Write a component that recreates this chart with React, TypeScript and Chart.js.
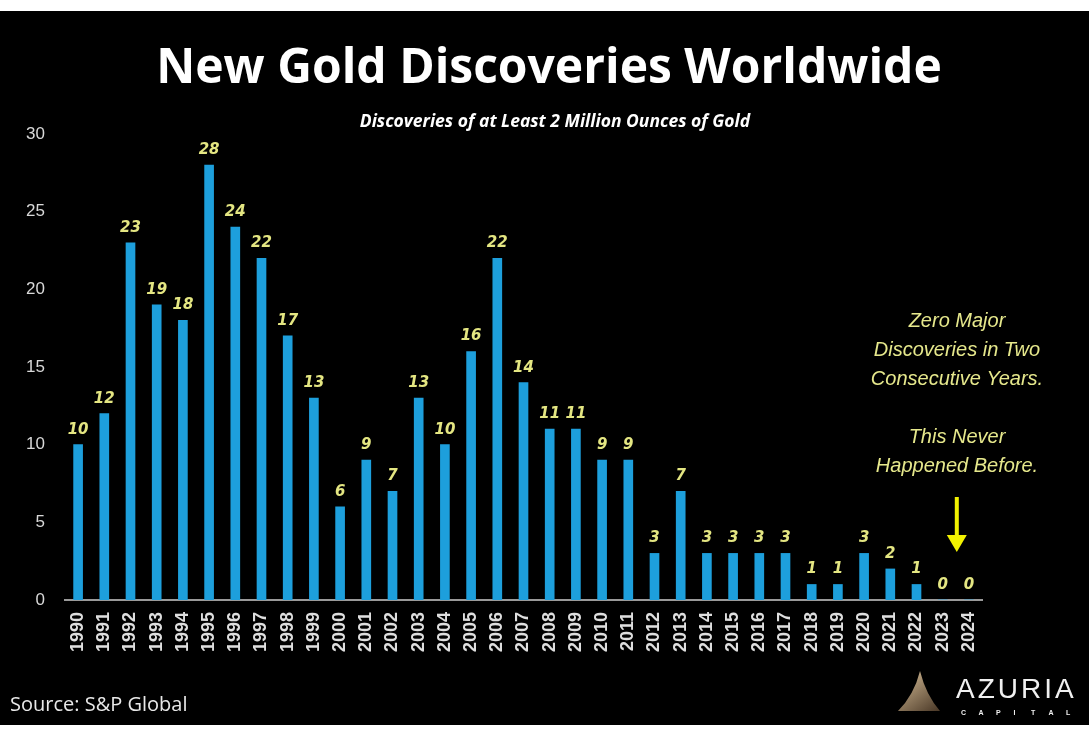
import React, { useEffect, useRef } from "react";
import { Chart, registerables } from "chart.js";

Chart.register(...registerables);

const years = [
  "1990","1991","1992","1993","1994","1995","1996","1997","1998","1999",
  "2000","2001","2002","2003","2004","2005","2006","2007","2008","2009",
  "2010","2011","2012","2013","2014","2015","2016","2017","2018","2019",
  "2020","2021","2022","2023","2024",
];
const discoveries = [
  10, 12, 23, 19, 18, 28, 24, 22, 17, 13,
  6, 9, 7, 13, 10, 16, 22, 14, 11, 11,
  9, 9, 3, 7, 3, 3, 3, 3, 1, 1,
  3, 2, 1, 0, 0,
];
const yTicks = [0, 5, 10, 15, 20, 25, 30];
const titleText = "New Gold Discoveries Worldwide";
const subtitleText = "Discoveries of at Least 2 Million Ounces of Gold";
const noteLines = ["Zero Major", "Discoveries in Two", "Consecutive Years.", "", "This Never", "Happened Before."];
const sourceText = "Source: S&P Global";

const W = 1089;
const H = 730;

const decorPlugin = {
  id: "decor",
  beforeDraw(chart: any) {
    const ctx = chart.ctx;
    ctx.save();
    ctx.fillStyle = "#ffffff";
    ctx.fillRect(0, 0, W, H);
    ctx.fillStyle = "#000000";
    ctx.fillRect(0, 11, W, 714);
    ctx.restore();
  },
  afterDraw(chart: any) {
    const ctx = chart.ctx;
    const xs = chart.scales.x;
    ctx.save();
    // title
    ctx.fillStyle = "#ffffff";
    ctx.textAlign = "center";
    ctx.textBaseline = "alphabetic";
    ctx.font = "bold 48px 'Open Sans'";
    ctx.fillText(titleText, 549, 83);
    ctx.font = "italic bold 17.5px 'Open Sans'";
    ctx.fillText(subtitleText, 555, 127);

    // data labels
    const meta = chart.getDatasetMeta(0);
    ctx.fillStyle = "#e4e682";
    ctx.font = "italic bold 15px 'DejaVu Sans'";
    meta.data.forEach((bar: any, i: number) => {
      ctx.fillText(String(discoveries[i]), bar.x, bar.y - 11);
    });

    // annotation
    ctx.fillStyle = "#e6e88c";
    ctx.font = "italic 20px 'Liberation Sans'";
    ctx.textBaseline = "middle";
    const nx = 957;
    let ny = 321;
    noteLines.forEach((l) => {
      if (l) ctx.fillText(l, nx, ny);
      ny += 29;
    });

    // arrow between 2023 and 2024
    const ax = (xs.getPixelForValue(33) + xs.getPixelForValue(34)) / 2 + 1;
    ctx.fillStyle = "#f2f200";
    ctx.fillRect(ax - 2, 497, 4, 40);
    ctx.beginPath();
    ctx.moveTo(ax - 10, 535);
    ctx.lineTo(ax + 10, 535);
    ctx.lineTo(ax, 552);
    ctx.closePath();
    ctx.fill();

    // source
    ctx.fillStyle = "#e8e8e8";
    ctx.textAlign = "left";
    ctx.textBaseline = "middle";
    ctx.font = "20px 'Open Sans'";
    ctx.fillText(sourceText, 10, 705);

    // logo
    const g = ctx.createLinearGradient(905, 672, 935, 712);
    g.addColorStop(0, "#cdb590");
    g.addColorStop(1, "#4e3c2a");
    ctx.fillStyle = g;
    ctx.beginPath();
    ctx.moveTo(920, 671);
    ctx.quadraticCurveTo(926, 695, 940, 711);
    ctx.lineTo(898, 711);
    ctx.quadraticCurveTo(914, 695, 920, 671);
    ctx.closePath();
    ctx.fill();
    ctx.fillStyle = "#f0f0f0";
    ctx.font = "28px 'Liberation Sans'";
    ctx.textAlign = "left";
    ctx.textBaseline = "alphabetic";
    (ctx as any).letterSpacing = "3px";
    ctx.fillText("AZURIA", 956, 698);
    (ctx as any).letterSpacing = "0px";
    ctx.font = "bold 7px 'Liberation Sans'";
    const cap = "CAPITAL";
    for (let i = 0; i < cap.length; i++) {
      ctx.fillText(cap[i], 961 + i * 17.5, 715);
    }
    ctx.restore();
  },
};

export default function App() {
  const ref = useRef<HTMLCanvasElement | null>(null);
  useEffect(() => {
    document.body.style.margin = "0";
    document.body.style.background = "#ffffff";
    if (!ref.current) return;
    const chart = new Chart(ref.current, {
      type: "bar",
      data: {
        labels: years,
        datasets: [
          {
            data: discoveries,
            backgroundColor: "#1d9fdc",
            borderWidth: 0,
            barThickness: 9,
          },
        ],
      },
      options: {
        animation: false,
        responsive: false,
        devicePixelRatio: 1,
        layout: { padding: { top: 134, left: 0, right: W - 982, bottom: 0 } },
        plugins: {
          legend: { display: false },
          tooltip: { enabled: false },
          title: { display: false },
        },
        scales: {
          x: {
            offset: true,
            grid: { display: false, drawTicks: false },
            border: { display: true, color: "#9a9a9a", width: 2 },
            ticks: {
              color: "#dedede",
              font: { size: 18, weight: "bold", family: "'Liberation Sans'" },
              minRotation: 90,
              maxRotation: 90,
              autoSkip: false,
              padding: 12,
            },
            afterFit: (s: any) => {
              s.height = H - 600;
            },
          },
          y: {
            min: 0,
            max: 30,
            afterBuildTicks: (s: any) => {
              s.ticks = yTicks.map((v) => ({ value: v }));
            },
            grid: { display: false, drawTicks: false },
            border: { display: false },
            ticks: {
              color: "#d8d8d8",
              font: { size: 17, family: "'Liberation Sans'" },
              padding: 20,
            },
            afterFit: (s: any) => {
              s.width = 65;
            },
          },
        },
      },
      plugins: [decorPlugin],
    });
    return () => chart.destroy();
  }, []);
  return (
    <div style={{ width: W, height: H }}>
      <canvas ref={ref} width={W} height={H} style={{ display: "block", width: W, height: H }} />
    </div>
  );
}
